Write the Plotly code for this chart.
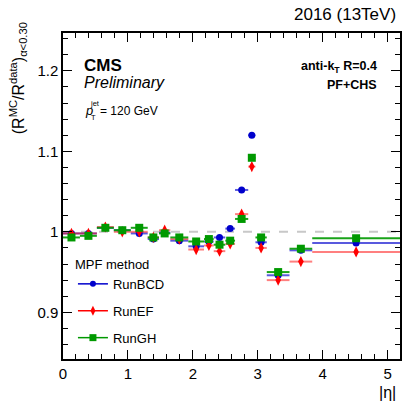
import plotly.graph_objects as go

# eta bin edges
eta_edges = [0.0, 0.261, 0.522, 0.783, 1.044, 1.305, 1.479, 1.653, 1.930, 2.172,
             2.322, 2.500, 2.650, 2.853, 2.964, 3.139, 3.489, 3.839, 5.191]

run_bcd = [0.998, 0.998, 1.005, 1.002, 0.998, 0.991, 0.999, 0.989, 0.982, 0.988,
           0.993, 1.004, 1.052, 1.120, 0.987, 0.946, 0.977, 0.986]
run_ef = [0.998, 0.998, 1.006, 1.000, 1.000, 0.993, 1.002, 0.991, 0.978, 0.983,
          0.976, 0.985, 1.022, 1.081, 0.980, 0.940, 0.963, 0.975]
run_gh = [0.993, 0.995, 1.005, 1.002, 1.005, 0.993, 0.998, 0.993, 0.988, 0.991,
          0.984, 0.989, 1.016, 1.092, 0.993, 0.950, 0.979, 0.992]

err_bcd = [0.001, 0.001, 0.001, 0.001, 0.001, 0.001, 0.001, 0.001, 0.001, 0.001,
           0.001, 0.001, 0.001, 0.001, 0.001, 0.001, 0.001, 0.001]
err_ef = [0.002, 0.002, 0.002, 0.002, 0.002, 0.002, 0.002, 0.003, 0.003, 0.003,
          0.003, 0.003, 0.003, 0.003, 0.003, 0.003, 0.003, 0.003]
err_gh = [0.001, 0.001, 0.001, 0.001, 0.001, 0.001, 0.001, 0.001, 0.001, 0.001,
          0.001, 0.001, 0.001, 0.001, 0.001, 0.001, 0.001, 0.001]

series_names = ["RunBCD", "RunEF", "RunGH"]

centers = [(a + b) / 2 for a, b in zip(eta_edges[:-1], eta_edges[1:])]
halfw = [(b - a) / 2 for a, b in zip(eta_edges[:-1], eta_edges[1:])]

FONT = "Liberation Sans, Arial, Helvetica, sans-serif"

styles = [
    dict(color="#0000cc", line="rgba(0,0,204,0.65)", symbol="circle", size=7),
    dict(color="#ff0000", line="rgba(255,0,0,0.5)", symbol="diamond-tall", size=8),
    dict(color="#009900", line="rgba(0,153,0,0.9)", symbol="square", size=8),
]
values = [run_bcd, run_ef, run_gh]
errors = [err_bcd, err_ef, err_gh]

fig = go.Figure()

for name, vals, errs, st in zip(series_names, values, errors, styles):
    fig.add_trace(go.Scatter(
        x=centers, y=vals, mode="markers", showlegend=False,
        marker=dict(color=st["color"], symbol=st["symbol"], size=st["size"], line=dict(width=0)),
        error_x=dict(type="data", array=halfw, symmetric=True, width=0,
                     thickness=2, color=st["line"]),
        error_y=dict(type="data", array=errs, symmetric=True, width=0,
                     thickness=1.5, color=st["line"]),
    ))

for i, (name, st) in enumerate(zip(series_names, styles)):
    fig.add_trace(go.Scatter(
        x=[None], y=[None], mode="lines+markers", name=name,
        legendgroup=name,
        marker=dict(color=st["color"], symbol=st["symbol"], size=st["size"] - 1),
        line=dict(color=st["color"], width=1.5),
    ))

# reference line at 1
fig.add_shape(type="line", xref="x", yref="y", x0=eta_edges[0], x1=eta_edges[-1],
              y0=1, y1=1, line=dict(color="#c8c8c8", width=2, dash="dash"), layer="below")

axis_common = dict(showline=True, linecolor="black", linewidth=1.5, mirror="allticks",
                   ticks="inside", ticklen=9, tickwidth=1.2, tickcolor="black",
                   showgrid=False, zeroline=False,
                   tickfont=dict(family=FONT, size=15, color="black"))

fig.update_xaxes(range=[0, 5.191], tickvals=[0, 1, 2, 3, 4, 5],
                 ticktext=["0", "1", "2", "3", "4", "5"],
                 minor=dict(dtick=0.2, tick0=0, ticks="inside", ticklen=5, tickwidth=1, tickcolor="black"),
                 **axis_common)
fig.update_yaxes(range=[0.842, 1.247], tickvals=[0.9, 1.0, 1.1, 1.2],
                 ticktext=["0.9", "1", "1.1", "1.2"],
                 minor=dict(dtick=0.02, tick0=0.8, ticks="inside", ticklen=5, tickwidth=1, tickcolor="black"),
                 **axis_common)

ann = []
def A(text, x, y, size, xanchor="left", yanchor="middle", xref="paper", yref="paper", **kw):
    ann.append(dict(text=text, x=x, y=y, xref=xref, yref=yref, xanchor=xanchor, yanchor=yanchor,
                    showarrow=False, font=dict(family=FONT, size=size, color="black"), **kw))

W, H = 403, 401
L, R, T, B = 63, 1, 33, 42
pw, ph = W - L - R, H - T - B
def px(xp):
    return (xp - L) / pw
def py(yp):
    return 1 - (yp - T) / ph

A("2016 (13TeV)", px(400), py(14), 17, xanchor="right")
A("<b>CMS</b>", px(82), py(65), 17)
A("<i>Preliminary</i>", px(82), py(82), 16)
A("<i>p</i>", px(83), py(111), 13)
A("jet", px(88.5), py(104), 7.5)
A("T", px(89), py(117), 7.5)
A("= 120 GeV", px(98), py(111), 12)
A("<b>anti-k<sub>T</sub> R=0.4</b>", px(381), py(67), 12.5, xanchor="right")
A("<b>PF+CHS</b>", px(381), py(85), 12.5, xanchor="right")
A("|η|", px(400), py(392), 16, xanchor="right")
A("(R<sup>MC</sup>/R<sup>data</sup>)<sub>α&lt;0.30</sub>", px(18), py(20), 16,
  xanchor="center", yanchor="top", textangle=-90)

fig.update_layout(
    width=W, height=H,
    margin=dict(l=L, r=R, t=T, b=B, pad=0),
    paper_bgcolor="white", plot_bgcolor="white",
    font=dict(family=FONT, size=13, color="black"),
    annotations=ann,
    legend=dict(title=dict(text="MPF method", font=dict(family=FONT, size=13)),
                x=px(73), y=py(252), xanchor="left", yanchor="top",
                bgcolor="rgba(0,0,0,0)", borderwidth=0,
                font=dict(family=FONT, size=13), traceorder="grouped", tracegroupgap=7,
                itemwidth=30),
)

fig.write_html("out.html", config={"displayModeBar": False},
               post_script="document.body.style.margin='0px';document.body.style.padding='0px';")
